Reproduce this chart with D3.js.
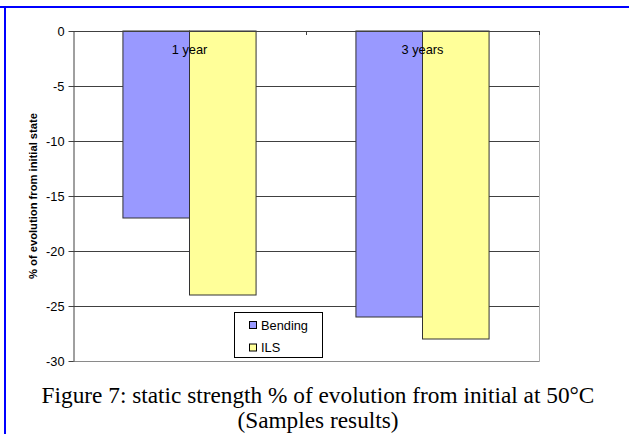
<!DOCTYPE html>
<html>
<head>
<meta charset="utf-8">
<script src="https://cdn.jsdelivr.net/npm/d3@7/dist/d3.min.js"></script>
<style>
  html, body { margin: 0; padding: 0; background: #fff; }
  svg { display: block; }
</style>
</head>
<body>
<svg id="chart" width="629" height="434"></svg>
<script>
// Chart data
const categories = ["1 year", "3 years"];
const seriesNames = ["Bending", "ILS"];
const bending = [-17, -26];
const ils = [-24, -28];
const yTicks = [0, -5, -10, -15, -20, -25, -30];
const seriesColors = ["#9999FF", "#FFFF99"];
const yTitle = "% of evolution from initial state";
const captionLines = ["Figure 7: static strength % of evolution from initial at 50\u00B0C", "(Samples results)"];

const sans = "Arial, 'Liberation Sans', sans-serif";
const svg = d3.select("#chart");

// Frame lines (left and top)
svg.append("line").attr("x1", 0).attr("x2", 629).attr("y1", 7).attr("y2", 7)
  .attr("stroke", "#0000FF").attr("stroke-width", 2);
svg.append("line").attr("x1", 5).attr("x2", 5).attr("y1", 6).attr("y2", 434)
  .attr("stroke", "#0000FF").attr("stroke-width", 2);

const plot = { left: 73, right: 539, top: 31, bottom: 361 };

const y = d3.scaleLinear().domain([0, -30]).range([plot.top, plot.bottom]);
const x0 = d3.scaleBand().domain(categories).range([plot.left, plot.right]).paddingInner(0).paddingOuter(0);
const x1 = d3.scaleBand().domain(seriesNames).range([0, x0.bandwidth()]).paddingOuter(0.75).paddingInner(0);

const g = svg.append("g");

// Plot area border (right and bottom)
g.append("line").attr("x1", plot.right + 0.5).attr("x2", plot.right + 0.5)
  .attr("y1", plot.top).attr("y2", plot.bottom + 0.5).attr("stroke", "#b0b0b0");
g.append("line").attr("x1", plot.left).attr("x2", plot.right + 0.5)
  .attr("y1", plot.bottom + 0.5).attr("y2", plot.bottom + 0.5).attr("stroke", "#8a8a8a");

// Horizontal gridlines
g.selectAll("line.grid").data(yTicks.filter(d => d !== 0 && d !== -30)).enter()
  .append("line").attr("class", "grid")
  .attr("x1", plot.left).attr("x2", plot.right)
  .attr("y1", d => Math.round(y(d)) + 0.5).attr("y2", d => Math.round(y(d)) + 0.5)
  .attr("stroke", "#404040").attr("stroke-width", 1);

// Bars
const values = [bending, ils];
categories.forEach((c, ci) => {
  seriesNames.forEach((s, si) => {
    const v = values[si][ci];
    g.append("rect")
      .attr("x", x0(c) + x1(s))
      .attr("y", y(0))
      .attr("width", x1.bandwidth())
      .attr("height", y(v) - y(0))
      .attr("fill", seriesColors[si])
      .attr("stroke", "#333")
      .attr("stroke-width", 1);
  });
});

// Y axis
const yAxis = d3.axisLeft(y).tickValues(yTicks).tickFormat(d => String(d))
  .tickSize(5).tickSizeOuter(0).tickPadding(4);
const ya = g.append("g").attr("transform", `translate(${plot.left + 0.5},0)`).call(yAxis);
ya.select(".domain").attr("stroke", "#404040");
ya.selectAll(".tick line").attr("stroke", "#404040");
ya.selectAll(".tick text").attr("font-family", sans)
  .attr("font-size", "12.8px").attr("fill", "#000");

// Category axis at zero (top)
g.append("line").attr("x1", plot.left).attr("x2", plot.right + 1)
  .attr("y1", y(0) + 0.5).attr("y2", y(0) + 0.5).attr("stroke", "#404040");
[plot.left + x0.bandwidth(), plot.right].forEach(tx => {
  g.append("line").attr("x1", tx + 0.5).attr("x2", tx + 0.5)
    .attr("y1", y(0)).attr("y2", y(0) + 4).attr("stroke", "#404040");
});

// Category labels
g.selectAll("text.cat").data(categories).enter().append("text")
  .attr("class", "cat")
  .attr("x", d => x0(d) + x0.bandwidth() / 2)
  .attr("y", 54)
  .attr("text-anchor", "middle")
  .attr("font-family", sans)
  .attr("font-size", "12.8px")
  .attr("fill", "#000")
  .text(d => d);

// Y axis title
svg.append("text")
  .attr("transform", "translate(37,196) rotate(-90)")
  .attr("text-anchor", "middle")
  .attr("font-family", sans)
  .attr("font-weight", "bold")
  .attr("font-size", "11.2px")
  .attr("fill", "#000")
  .text(yTitle);

// Legend
const lg = svg.append("g").attr("transform", "translate(234,312)");
lg.append("rect").attr("x", 0.5).attr("y", 0.5).attr("width", 88).attr("height", 45)
  .attr("fill", "#fff").attr("stroke", "#000");
seriesNames.forEach((s, i) => {
  const yy = 13 + i * 22.5;
  lg.append("rect").attr("x", 15.5).attr("y", yy - 3.5).attr("width", 7).attr("height", 7)
    .attr("fill", seriesColors[i]).attr("stroke", "#000");
  lg.append("text").attr("x", 27).attr("y", yy + 4.5)
    .attr("font-family", sans)
    .attr("font-size", "12.8px").attr("fill", "#000").text(s);
});

// Caption
svg.selectAll("text.caption").data(captionLines).enter().append("text")
  .attr("class", "caption")
  .attr("x", 318)
  .attr("y", (d, i) => 403 + i * 25)
  .attr("text-anchor", "middle")
  .attr("font-family", "'Times New Roman', 'Liberation Serif', serif")
  .attr("font-size", "23.3px")
  .attr("fill", "#000")
  .text(d => d);
</script>
</body>
</html>
